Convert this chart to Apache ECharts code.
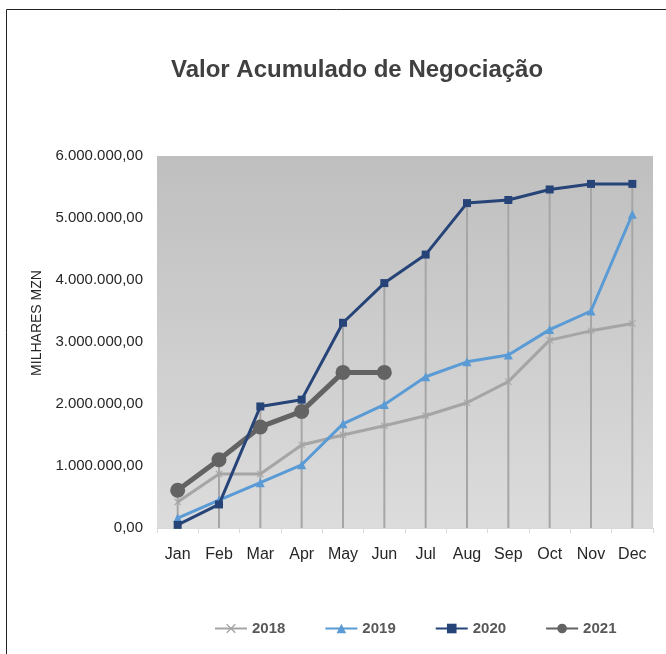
<!DOCTYPE html>
<html><head><meta charset="utf-8">
<script src="https://cdn.jsdelivr.net/npm/echarts@6/dist/echarts.min.js"></script>
<style>html,body{margin:0;padding:0;background:#fff}#c{width:666px;height:654px}</style>
</head><body><div id="c"></div>
<script>
var categories = ['Jan','Feb','Mar','Apr','May','Jun','Jul','Aug','Sep','Oct','Nov','Dec'];
var s2018 = [420000, 870000, 870000, 1340000, 1500000, 1650000, 1810000, 2020000, 2360000, 3030000, 3180000, 3300000];
var s2019 = [160000, 450000, 730000, 1020000, 1680000, 1990000, 2440000, 2680000, 2790000, 3200000, 3500000, 5060000];
var s2020 = [50000, 380000, 1960000, 2070000, 3310000, 3950000, 4410000, 5240000, 5290000, 5460000, 5550000, 5550000];
var s2021 = [610000, 1100000, 1630000, 1880000, 2510000, 2510000, null, null, null, null, null, null];
var yTicks = [0, 1000000, 2000000, 3000000, 4000000, 5000000, 6000000];

var dropVals = categories.map(function(_, i){
  var v = [s2018[i], s2019[i], s2020[i], s2021[i]].filter(function(x){return x!=null;});
  return Math.max.apply(null, v);
});
function fmt(v){
  var s = Math.round(v).toString().replace(/\B(?=(\d{3})+(?!\d))/g, '.');
  return s + ',00';
}
var xPath = 'path://M1,0L5,4L9,0L10,1L6,5L10,9L9,10L5,6L1,10L0,9L4,5L0,1Z';
var font = 'Liberation Sans, Arial, sans-serif';
var chart = echarts.init(document.getElementById('c'));
chart.setOption({
  animation: false,
  title: {text: 'Valor Acumulado de Negociação', left: 166, top: 53,
    textStyle: {fontFamily: font, fontSize: 24, fontWeight: 'bold', color: '#404040'}},
  graphic: [
    {type: 'rect', shape: {x: 6.5, y: 9.5, width: 800, height: 800},
      style: {fill: 'none', stroke: '#222', lineWidth: 1}, z: -10},
    {type: 'text', x: 37, y: 323, rotation: Math.PI / 2,
      style: {text: 'MILHARES MZN', fontFamily: font, fontSize: 14, fill: '#262626',
        textAlign: 'center', textVerticalAlign: 'middle'}}
  ],
  grid: {left: 157, top: 156, right: 13, bottom: 126, show: true, borderWidth: 0,
    backgroundColor: {type: 'linear', x: 0, y: 0, x2: 0, y2: 1,
      colorStops: [{offset: 0, color: '#bfbfbf'}, {offset: 1, color: '#dcdcdc'}]}},
  legend: {left: 209, top: 616, itemWidth: 32, itemHeight: 12, itemGap: 39,
    data: ['2018','2019','2020','2021'],
    textStyle: {fontFamily: font, fontSize: 15, fontWeight: 'bold', color: '#595959'}},
  xAxis: {type: 'category', data: categories, boundaryGap: true,
    axisLine: {lineStyle: {color: '#d9d9d9', width: 1}},
    axisTick: {show: true, length: 5, lineStyle: {color: '#d9d9d9'}},
    axisLabel: {fontFamily: font, fontSize: 16, color: '#262626', margin: 19}},
  yAxis: {type: 'value', min: 0, max: 6000000, interval: 1000000,
    axisLine: {show: false}, axisTick: {show: false}, splitLine: {show: false},
    axisLabel: {fontFamily: font, fontSize: 15, color: '#262626', margin: 14,
      formatter: function(v){ return yTicks.indexOf(v) >= 0 ? fmt(v) : ''; }}},
  series: [
    {name: 'drop', type: 'bar', data: dropVals, barWidth: 2, z: 1, silent: true,
      itemStyle: {color: '#a6a6a6'}},
    {name: '2018', type: 'line', data: s2018, z: 3, symbol: xPath, symbolSize: 7,
      lineStyle: {color: '#a5a5a5', width: 3}, itemStyle: {color: '#a5a5a5'}},
    {name: '2019', type: 'line', data: s2019, z: 4, symbol: 'triangle', symbolSize: 9,
      lineStyle: {color: '#5b9bd5', width: 3}, itemStyle: {color: '#5b9bd5'}},
    {name: '2020', type: 'line', data: s2020, z: 5, symbol: 'rect', symbolSize: 8,
      lineStyle: {color: '#264478', width: 3}, itemStyle: {color: '#264478'}},
    {name: '2021', type: 'line', data: s2021, z: 4, symbol: 'circle', symbolSize: 15,
      lineStyle: {color: '#636363', width: 5}, itemStyle: {color: '#636363'}}
  ]
});
</script></body></html>
